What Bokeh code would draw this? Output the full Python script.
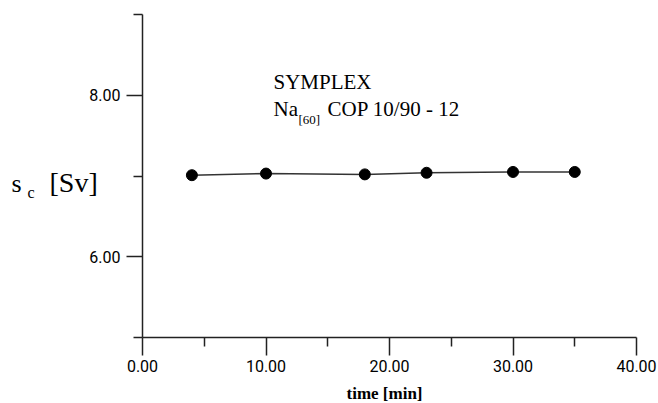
from bokeh.plotting import figure
from bokeh.models import FixedTicker, Range1d, Label, LinearAxis
from bokeh.embed import file_html
from bokeh.resources import INLINE

# ---- data ----
time_min = [4, 10, 18, 23, 30, 35]
sc_sv = [7.01, 7.03, 7.02, 7.04, 7.05, 7.05]

x_ticks = [0, 10, 20, 30, 40]
x_tick_labels = ["0.00", "10.00", "20.00", "30.00", "40.00"]
x_minor = [5, 15, 25, 35]
y_ticks = [6, 8]
y_tick_labels = ["6.00", "8.00"]
y_minor = [5, 7, 9]

SERIF = "Liberation Serif"
SANS = "Roboto"
AX = "#222222"

W, H = 658, 403
# frame covers whole canvas; axes are placed at fixed data locations
FX0, FX1 = 142, 636   # pixel positions of x = 0 and x = 40
FY0, FY1 = 337, 14    # pixel positions of y = 5 and y = 9
xs = (FX1 - FX0) / 40.0
ys = (FY0 - FY1) / 4.0
x_range = Range1d(0 - FX0 / xs, 40 + (W - FX1) / xs)
y_range = Range1d(5 - (H - FY0) / ys, 9 + FY1 / ys)

p = figure(width=W, height=H, output_backend="svg", toolbar_location=None,
           x_range=x_range, y_range=y_range,
           x_axis_location=None, y_axis_location=None,
           min_border=0, min_border_left=0, min_border_right=0,
           min_border_top=0, min_border_bottom=0)
p.outline_line_color = None
p.background_fill_color = "white"
p.border_fill_color = "white"
p.grid.visible = False

xa = LinearAxis(fixed_location=5, bounds=(0, 40))
xa.ticker = FixedTicker(ticks=x_ticks, minor_ticks=x_minor)
xa.major_label_overrides = {t: l for t, l in zip(x_ticks, x_tick_labels)}
xa.major_tick_out = 18
xa.major_tick_in = 0
xa.minor_tick_out = 9
xa.minor_tick_in = 0
xa.major_label_standoff = 4

ya = LinearAxis(fixed_location=0, bounds=(5, 9))
ya.ticker = FixedTicker(ticks=y_ticks, minor_ticks=y_minor)
ya.major_label_overrides = {t: l for t, l in zip(y_ticks, y_tick_labels)}
ya.major_tick_out = 16
ya.major_tick_in = 0
ya.minor_tick_out = 9
ya.minor_tick_in = 0
ya.major_label_standoff = 6

for ax in (xa, ya):
    ax.major_label_text_font = SANS
    ax.major_label_text_font_size = "16px"
    ax.major_label_text_color = "black"
    ax.axis_line_color = AX
    ax.axis_line_width = 1.5
    ax.major_tick_line_color = AX
    ax.major_tick_line_width = 1.5
    ax.minor_tick_line_color = AX
    ax.minor_tick_line_width = 1.5

p.add_layout(xa, "below")
p.add_layout(ya, "left")

p.line(time_min, sc_sv, line_color="#333333", line_width=1.5)
p.scatter(time_min, sc_sv, size=11, fill_color="black", line_color="black")

def lab(text, px, py, size, bold=False, align="left"):
    # px: left (or centre) pixel, py: baseline pixel from the top of the canvas
    p.add_layout(Label(x=px, y=H - py + 0.42 * size, x_units="screen", y_units="screen",
                       text=text, text_font=SERIF, text_font_size=f"{size}px",
                       text_font_style="bold" if bold else "normal",
                       text_color="black", text_baseline="alphabetic",
                       text_align=align))

# y-axis title  s_c [Sv]
lab("s", 11, 194, 26)
lab("c", 27, 199, 16)
lab("[Sv]", 49, 194, 28)

# annotation
lab("SYMPLEX", 273, 90, 21)
lab("Na", 273, 117, 21)
lab("[60]", 298, 124, 13)
lab("COP 10/90 - 12", 327, 117, 21)

# x-axis title
lab("time [min]", 384, 400, 17, bold=True, align="center")

open("out.html", "w").write(file_html(p, INLINE))
